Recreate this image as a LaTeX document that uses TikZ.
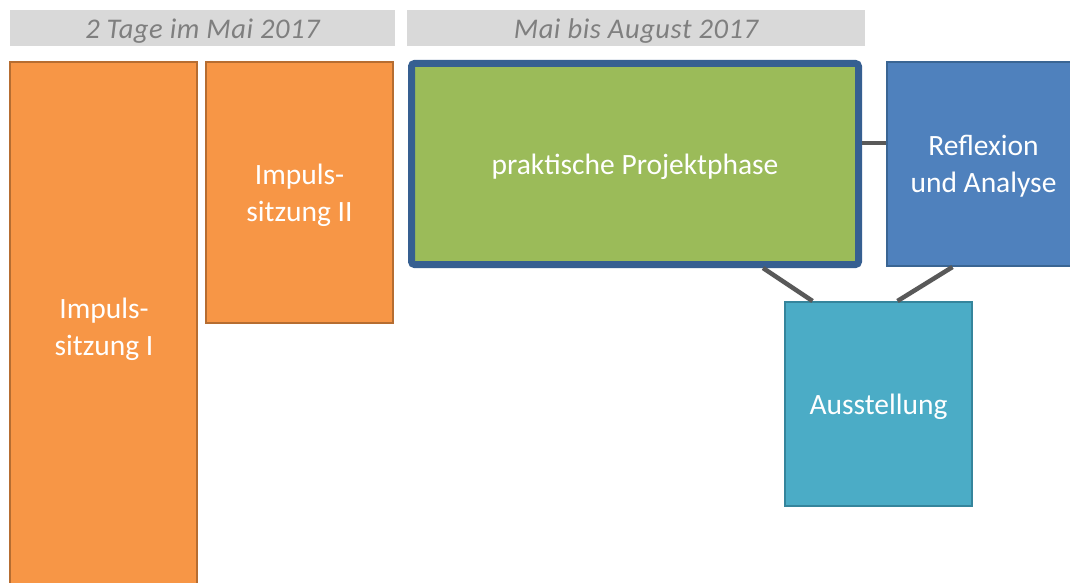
\documentclass[tikz,border=0pt]{standalone}
\usepackage{fontspec}
\setmainfont{Carlito}
\usepackage{tikz}
\usetikzlibrary{positioning,calc}
\definecolor{barGrey}{HTML}{D9D9D9}
\definecolor{barText}{HTML}{7F7F7F}
\definecolor{impFill}{HTML}{F79646}
\definecolor{impLine}{HTML}{B66D31}
\definecolor{proFill}{HTML}{9BBB59}
\definecolor{proLine}{HTML}{365F91}
\definecolor{refFill}{HTML}{4F81BD}
\definecolor{refLine}{HTML}{3A6593}
\definecolor{ausFill}{HTML}{4BACC6}
\definecolor{ausLine}{HTML}{35859C}
\definecolor{linkGrey}{HTML}{595959}
\newcommand{\lowered}[1]{\raisebox{-3pt}[\height][\depth]{#1}}

\begin{document}
\begin{tikzpicture}[
  x=1pt, y=-1pt,
  timebar/.style={fill=barGrey, draw=none, inner sep=0pt, text=barText, font=\fontsize{28.5}{32}\selectfont\itshape},
  phasebox/.style={inner sep=0pt, text=white, align=center, line width=2pt, font=\fontsize{29.5}{37}\selectfont},
  link/.style={draw=linkGrey, line width=4.5pt},
]
\clip (0,0) rectangle (1070,583);
\fill[white] (0,0) rectangle (1070,583);

% ===================== time bars =====================
\node[timebar, minimum width=385pt, minimum height=36pt] (bar1) at (202.5,28) {\lowered{\addfontfeature{LetterSpace=2}2 Tage im Mai 2017}};
\node[timebar, minimum width=458pt, minimum height=36pt] (bar2) at (636,28) {\lowered{\addfontfeature{LetterSpace=2}Mai bis August 2017}};

% ===================== Impulssitzungen =====================
\node[phasebox, fill=impFill, draw=impLine, minimum width=187pt, minimum height=540pt] (imp1) at (103.5,332) {};
\node[phasebox, text=white] at (104,327) {\lowered{\begin{tabular}{@{}c@{}}Impuls-\\sitzung I\end{tabular}}};
\node[phasebox, fill=impFill, draw=impLine, minimum width=187pt, minimum height=261pt] (imp2) at (299.5,192.5) {\lowered{\begin{tabular}{@{}c@{}}Impuls-\\sitzung II\end{tabular}}};

% ===================== project phase =====================
\node[phasebox, fill=proFill, draw=proLine, line width=7pt, rounded corners=3pt, minimum width=447pt, minimum height=201pt] (proj) at (635,164) {\lowered{praktische Projektphase}};
\node[phasebox, fill=refFill, draw=refLine, minimum width=193pt, minimum height=204pt] (refl) at (983.5,164) {\lowered{\begin{tabular}{@{}c@{}}Reflexion\\und Analyse\end{tabular}}};
\node[phasebox, fill=ausFill, draw=ausLine, minimum width=187pt, minimum height=204pt] (auss) at (878.5,404) {\lowered{Ausstellung}};

% connectors
\draw[link] ([yshift=21pt]proj.east) -- ([yshift=21pt]refl.west);
\draw[link] ([xshift=128pt]proj.south) -- ([xshift=-66pt]auss.north);
\draw[link] ([xshift=-31pt]refl.south) -- ([xshift=19pt]auss.north);

\end{tikzpicture}
\end{document}
